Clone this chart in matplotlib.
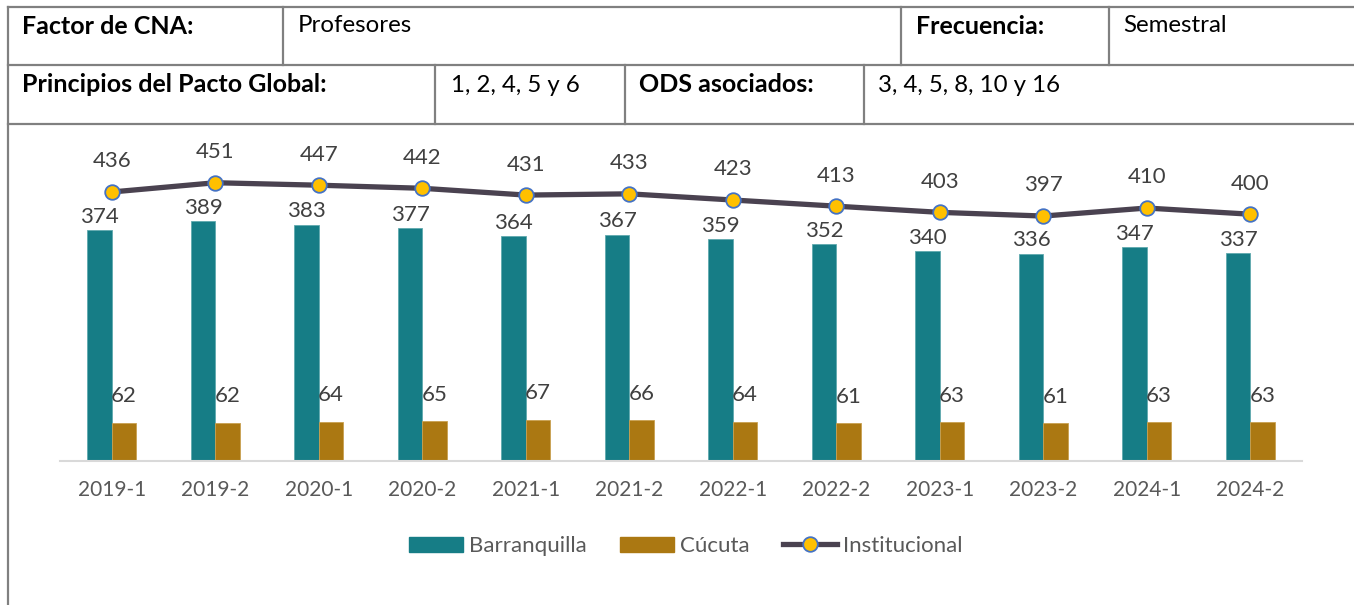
import matplotlib
matplotlib.use("Agg")
import matplotlib.pyplot as plt
from matplotlib.lines import Line2D
from matplotlib.patches import Patch
import numpy as np

plt.rcParams['font.family'] = ['Lato', 'DejaVu Sans']

categories = ["2019-1", "2019-2", "2020-1", "2020-2", "2021-1", "2021-2",
              "2022-1", "2022-2", "2023-1", "2023-2", "2024-1", "2024-2"]
barranquilla = [374, 389, 383, 377, 364, 367, 359, 352, 340, 336, 347, 337]
cucuta = [62, 62, 64, 65, 67, 66, 64, 61, 63, 61, 63, 63]
institucional = [436, 451, 447, 442, 431, 433, 423, 413, 403, 397, 410, 400]

W, H = 1354, 605
fig = plt.figure(figsize=(W / 100, H / 100), dpi=100)
fig.patch.set_facecolor('white')

def fx(x):
    return x / W

def fy(y):
    return 1 - y / H

# ---- table borders ----
border = '#808080'
lw_b = 1.6
def hline(y, x0=8, x1=W + 5):
    fig.add_artist(Line2D([fx(x0), fx(x1)], [fy(y), fy(y)], color=border, lw=lw_b))
def vline(x, y0, y1):
    fig.add_artist(Line2D([fx(x), fx(x)], [fy(y0), fy(y1)], color=border, lw=lw_b))

hline(7)
hline(65)
hline(124)
vline(8, 7, H + 5)
vline(283, 7, 65)
vline(901, 7, 65)
vline(1109, 7, 65)
vline(435, 65, 124)
vline(625, 65, 124)
vline(864, 65, 124)

def ttext(x, y, s, bold=False):
    fig.text(fx(x), fy(y), s, fontsize=18 if bold else 17.3,
             fontweight='bold' if bold else 'normal',
             ha='left', va='center', color='black')

ttext(22, 26, "Factor de CNA:", True)
ttext(298, 26, "Profesores")
ttext(916, 26, "Frecuencia:", True)
ttext(1123, 26, "Semestral")
ttext(22, 85, "Principios del Pacto Global:", True)
ttext(451, 85, "1, 2, 4, 5 y 6")
ttext(639, 85, "ODS asociados:", True)
ttext(878, 85, "3, 4, 5, 8, 10 y 16")

# ---- chart ----
px_per_unit = 0.617
ytop = 500
ax_left, ax_right, ax_base = 60, 1302, 461
ax_h = ytop * px_per_unit
ax = fig.add_axes([fx(ax_left), fy(ax_base), (ax_right - ax_left) / W, ax_h / H])
ax.set_facecolor('none')

x = np.arange(len(categories))
bw = 0.235
c_bq = '#167D86'
c_cu = '#AB7812'
c_line = '#4A4250'
c_mark = '#FFC000'
c_medge = '#4472C4'
lab_col = '#404040'

ax.bar(x - bw / 2, barranquilla, bw, color=c_bq, edgecolor='#5FA9AE', linewidth=0.6, zorder=2)
ax.bar(x + bw / 2, cucuta, bw, color=c_cu, edgecolor='#C9A050', linewidth=0.6, zorder=2)
ax.plot(x, institucional, color=c_line, lw=3.8, marker='o', markersize=10.5,
        markerfacecolor=c_mark, markeredgecolor=c_medge, markeredgewidth=1.3, zorder=3)

lfs = 16
for i in range(len(categories)):
    ax.annotate(str(barranquilla[i]), (x[i] - bw / 2, barranquilla[i]), xytext=(0, 9.5),
                textcoords='offset points', ha='center', va='center', fontsize=lfs,
                color=lab_col, annotation_clip=False)
    ax.annotate(str(cucuta[i]), (x[i] + bw / 2, cucuta[i]), xytext=(0, 19),
                textcoords='offset points', ha='center', va='center', fontsize=lfs,
                color=lab_col, annotation_clip=False)
    ax.annotate(str(institucional[i]), (x[i], institucional[i]), xytext=(0, 22),
                textcoords='offset points', ha='center', va='center', fontsize=lfs,
                color=lab_col, annotation_clip=False)

ax.set_xlim(-0.5, len(categories) - 0.5)
ax.set_ylim(0, ytop)
ax.set_yticks([])
ax.set_xticks(x)
ax.set_xticklabels(categories, fontsize=15, color='#595959')
ax.tick_params(axis='x', length=0, pad=14)
for s in ['top', 'right', 'left']:
    ax.spines[s].set_visible(False)
ax.spines['bottom'].set_color('#D9D9D9')
ax.spines['bottom'].set_linewidth(1.5)

handles = [Patch(facecolor=c_bq, edgecolor=c_bq),
           Patch(facecolor=c_cu, edgecolor=c_cu),
           Line2D([0], [0], color=c_line, lw=3.8, marker='o', markersize=10.5,
                  markerfacecolor=c_mark, markeredgecolor=c_medge, markeredgewidth=1.3)]
leg = fig.legend(handles, ["Barranquilla", "Cúcuta", "Institucional"], loc='center',
                 bbox_to_anchor=(fx(686), fy(546)), ncol=3, frameon=False, fontsize=16,
                 handlelength=2.4, handleheight=0.68, handletextpad=0.3, columnspacing=1.5)
for t in leg.get_texts():
    t.set_color('#595959')

fig.savefig('out.png', dpi=100, facecolor='white')
